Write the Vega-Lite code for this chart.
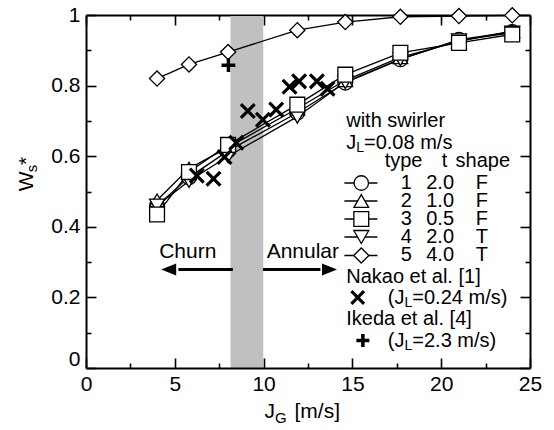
{
  "$schema": "https://vega.github.io/schema/vega-lite/v6.json",
  "width": 444,
  "height": 353,
  "autosize": {"type": "none"},
  "padding": {"left": 86, "top": 15, "right": 24, "bottom": 62},
  "background": "white",
  "config": {
    "view": {"stroke": null},
    "font": "Liberation Sans",
    "text": {"font": "Liberation Sans", "color": "black"}
  },
  "datasets": {
    "band": [{"x": 8.14, "x2": 9.98, "y": 0, "y2": 0.997}],
    "series": [
      {"type": 5, "x": 4, "y": 0.82}, {"type": 5, "x": 5.8, "y": 0.86}, {"type": 5, "x": 8, "y": 0.895}, {"type": 5, "x": 11.9, "y": 0.957},
      {"type": 5, "x": 14.6, "y": 0.98}, {"type": 5, "x": 17.7, "y": 0.995}, {"type": 5, "x": 21, "y": 0.997}, {"type": 5, "x": 24, "y": 0.999},
      {"type": 1, "x": 4, "y": 0.46}, {"type": 1, "x": 5.8, "y": 0.54}, {"type": 1, "x": 8, "y": 0.615}, {"type": 1, "x": 11.9, "y": 0.723},
      {"type": 1, "x": 14.6, "y": 0.808}, {"type": 1, "x": 17.7, "y": 0.874}, {"type": 1, "x": 21, "y": 0.93}, {"type": 1, "x": 24, "y": 0.952},
      {"type": 2, "x": 4, "y": 0.475}, {"type": 2, "x": 5.8, "y": 0.565}, {"type": 2, "x": 8, "y": 0.625}, {"type": 2, "x": 11.9, "y": 0.735},
      {"type": 2, "x": 14.6, "y": 0.815}, {"type": 2, "x": 17.7, "y": 0.88}, {"type": 2, "x": 21, "y": 0.925}, {"type": 2, "x": 24, "y": 0.955},
      {"type": 4, "x": 4, "y": 0.46}, {"type": 4, "x": 5.8, "y": 0.53}, {"type": 4, "x": 8, "y": 0.6}, {"type": 4, "x": 11.9, "y": 0.712},
      {"type": 4, "x": 14.6, "y": 0.81}, {"type": 4, "x": 17.7, "y": 0.875}, {"type": 4, "x": 21, "y": 0.928}, {"type": 4, "x": 24, "y": 0.95},
      {"type": 3, "x": 4, "y": 0.435}, {"type": 3, "x": 5.8, "y": 0.555}, {"type": 3, "x": 8, "y": 0.632}, {"type": 3, "x": 11.9, "y": 0.746},
      {"type": 3, "x": 14.6, "y": 0.831}, {"type": 3, "x": 17.7, "y": 0.893}, {"type": 3, "x": 21, "y": 0.921}, {"type": 3, "x": 24, "y": 0.945}
    ],
    "nakao": [
      {"x": 6.24, "y": 0.545}, {"x": 7.18, "y": 0.536}, {"x": 7.8, "y": 0.598}, {"x": 8.46, "y": 0.638},
      {"x": 9.11, "y": 0.728}, {"x": 9.96, "y": 0.703}, {"x": 10.71, "y": 0.732}, {"x": 11.46, "y": 0.797},
      {"x": 12.0, "y": 0.812}, {"x": 13.0, "y": 0.812}, {"x": 13.6, "y": 0.791}
    ],
    "ikeda": [{"x": 8.02, "y": 0.858}],
    "legendRows": [
      {"type": 1, "x": 14.55, "x2": 16.41, "xs": 15.5, "y": 0.5241},
      {"type": 2, "x": 14.55, "x2": 16.41, "xs": 15.5, "y": 0.4731},
      {"type": 3, "x": 14.55, "x2": 16.41, "xs": 15.5, "y": 0.4221},
      {"type": 4, "x": 14.55, "x2": 16.41, "xs": 15.5, "y": 0.3711},
      {"type": 5, "x": 14.55, "x2": 16.41, "xs": 15.5, "y": 0.3187}
    ],
    "keyRefs": [
      {"src": "nakao", "x": 15.3, "y": 0.1997},
      {"src": "ikeda", "x": 15.59, "y": 0.0779}
    ],
    "arrows": [
      {"dir": "left", "x": 8.27, "x2": 5.2, "tip": 4.657, "y": 0.279},
      {"dir": "right", "x": 9.96, "x2": 13.2, "tip": 13.71, "y": 0.279}
    ],
    "notes": [
      {"role": "legend", "text": "with swirler", "x": 14.651, "y": 0.6997},
      {"role": "legend", "text": "J", "x": 14.651, "y": 0.6388},
      {"role": "legend", "text": "=0.08 m/s", "x": 15.653, "y": 0.6388},
      {"role": "legend", "text": "Nakao et al. [1]", "x": 14.651, "y": 0.2578},
      {"role": "legend", "text": "(J", "x": 16.993, "y": 0.1997},
      {"role": "legend", "text": "=0.24 m/s)", "x": 18.373, "y": 0.1997},
      {"role": "legend", "text": "Ikeda et al. [4]", "x": 14.651, "y": 0.1402},
      {"role": "legend", "text": "(J", "x": 16.993, "y": 0.0779},
      {"role": "legend", "text": "=2.3 m/s)", "x": 18.373, "y": 0.0779},
      {"role": "sub", "text": "L", "x": 15.214, "y": 0.6388},
      {"role": "sub", "text": "L", "x": 17.934, "y": 0.1997},
      {"role": "sub", "text": "L", "x": 17.934, "y": 0.0779},
      {"role": "col", "text": "type", "x": 17.88, "y": 0.585},
      {"role": "col", "text": "t", "x": 20.19, "y": 0.585},
      {"role": "col", "text": "shape", "x": 22.34, "y": 0.585},
      {"role": "col", "text": "1", "x": 18.03, "y": 0.5241},
      {"role": "col", "text": "2.0", "x": 19.94, "y": 0.5241},
      {"role": "col", "text": "F", "x": 22.29, "y": 0.5241},
      {"role": "col", "text": "2", "x": 18.03, "y": 0.4731},
      {"role": "col", "text": "1.0", "x": 19.94, "y": 0.4731},
      {"role": "col", "text": "F", "x": 22.29, "y": 0.4731},
      {"role": "col", "text": "3", "x": 18.03, "y": 0.4221},
      {"role": "col", "text": "0.5", "x": 19.94, "y": 0.4221},
      {"role": "col", "text": "F", "x": 22.29, "y": 0.4221},
      {"role": "col", "text": "4", "x": 18.03, "y": 0.3711},
      {"role": "col", "text": "2.0", "x": 19.94, "y": 0.3711},
      {"role": "col", "text": "T", "x": 22.29, "y": 0.3711},
      {"role": "col", "text": "5", "x": 18.03, "y": 0.3187},
      {"role": "col", "text": "4.0", "x": 19.94, "y": 0.3187},
      {"role": "col", "text": "T", "x": 22.29, "y": 0.3187},
      {"role": "region", "text": "Churn", "x": 5.73, "y": 0.3286},
      {"role": "region", "text": "Annular", "x": 12.21, "y": 0.3286},
      {"role": "title", "text": "J", "x": 10.051, "y": -0.143},
      {"role": "title", "text": "[m/s]", "x": 11.74, "y": -0.143},
      {"role": "titlesub", "text": "G", "x": 10.642, "y": -0.143},
      {"role": "ytitle", "text": "W", "x": -2.995, "y": 0.5008},
      {"role": "ytitle", "text": "*", "x": -2.995, "y": 0.575},
      {"role": "ytitlesub", "text": "s", "x": -2.995, "y": 0.5547}
    ]
  },
  "encoding": {
    "x": {"field": "x", "type": "quantitative", "scale": {"domain": [0, 25], "nice": false, "zero": false}, "axis": null},
    "y": {"field": "y", "type": "quantitative", "scale": {"domain": [0, 1], "nice": false, "zero": false}, "axis": null}
  },
  "layer": [
    {
      "data": {"name": "band"},
      "mark": {"type": "rect", "fill": "#c0c0c0"},
      "encoding": {
        "x": {"field": "x", "type": "quantitative", "scale": {"domain": [0, 25], "nice": false, "zero": false},
          "axis": {"orient": "bottom", "values": [0, 2.5, 5, 7.5, 10, 12.5, 15, 17.5, 20, 22.5, 25], "format": "~g",
            "labelExpr": "datum.value % 5 === 0 ? datum.label : ''",
            "tickSize": {"condition": {"test": "datum.value % 5 === 0", "value": -10}, "value": -5},
            "labelPadding": 15, "labelFlush": false, "labelOverlap": false, "title": null, "grid": false,
            "domainColor": "black", "domainWidth": 2, "tickColor": "black", "tickWidth": 1.6,
            "labelFont": "Liberation Sans", "labelFontSize": 21, "labelColor": "black", "zindex": 1}},
        "x2": {"field": "x2"},
        "y": {"field": "y", "type": "quantitative", "scale": {"domain": [0, 1], "nice": false, "zero": false},
          "axis": {"orient": "left", "values": [0, 0.1, 0.2, 0.3, 0.4, 0.5, 0.6, 0.7, 0.8, 0.9, 1], "format": "~g",
            "labelExpr": "round(datum.value * 10) % 2 === 0 ? datum.label : ''",
            "tickSize": {"condition": {"test": "round(datum.value * 10) % 2 === 0", "value": -10}, "value": -5},
            "labelOffset": {"condition": {"test": "datum.value === 0", "value": -9}, "value": 0},
            "labelPadding": 16, "labelFlush": false, "labelOverlap": false, "title": null, "grid": false,
            "domainColor": "black", "domainWidth": 2, "tickColor": "black", "tickWidth": 1.6,
            "labelFont": "Liberation Sans", "labelFontSize": 21, "labelColor": "black", "zindex": 1}},
        "y2": {"field": "y2"}
      }
    },
    {
      "data": {"name": "series"},
      "mark": {"type": "line", "color": "black", "strokeWidth": 1.3},
      "encoding": {
        "x": {"field": "x", "type": "quantitative", "scale": {"domain": [0, 25], "nice": false, "zero": false},
          "axis": {"orient": "top", "values": [0, 2.5, 5, 7.5, 10, 12.5, 15, 17.5, 20, 22.5, 25], "labels": false,
            "tickSize": {"condition": {"test": "datum.value % 5 === 0", "value": -10}, "value": -5},
            "title": null, "grid": false, "domainColor": "black", "domainWidth": 2, "tickColor": "black", "tickWidth": 1.6, "zindex": 0}},
        "y": {"field": "y", "type": "quantitative", "scale": {"domain": [0, 1], "nice": false, "zero": false},
          "axis": {"orient": "right", "values": [0, 0.1, 0.2, 0.3, 0.4, 0.5, 0.6, 0.7, 0.8, 0.9, 1], "labels": false,
            "tickSize": {"condition": {"test": "round(datum.value * 10) % 2 === 0", "value": -10}, "value": -5},
            "title": null, "grid": false, "domainColor": "black", "domainWidth": 2, "tickColor": "black", "tickWidth": 1.6, "zindex": 1}},
        "detail": {"field": "type", "type": "nominal"}
      }
    },
    {
      "data": {"name": "series"},
      "mark": {"type": "point", "filled": true, "fill": "white", "stroke": "black", "strokeWidth": 1.3, "opacity": 1},
      "encoding": {
        "shape": {"field": "type", "type": "nominal", "scale": {"domain": [1, 2, 3, 4, 5], "range": ["circle", "triangle-up", "square", "triangle-down", "diamond"]}, "legend": null},
        "size": {"field": "type", "type": "ordinal", "scale": {"domain": [1, 2, 3, 4, 5], "range": [210, 230, 180, 230, 280]}, "legend": null}
      }
    },
    {
      "data": {"name": "nakao"},
      "mark": {"type": "point", "shape": "M-1,-1L1,1M-1,1L1,-1", "size": 190, "stroke": "black", "strokeWidth": 3.2, "filled": false, "opacity": 1}
    },
    {
      "data": {"name": "ikeda"},
      "mark": {"type": "point", "shape": "M-1,0L1,0M0,-1L0,1", "size": 190, "stroke": "black", "strokeWidth": 3.5, "filled": false, "opacity": 1}
    },
    {
      "data": {"name": "legendRows"},
      "mark": {"type": "rule", "color": "black", "strokeWidth": 1.3},
      "encoding": {"x2": {"field": "x2"}}
    },
    {
      "data": {"name": "legendRows"},
      "mark": {"type": "point", "filled": true, "fill": "white", "stroke": "black", "strokeWidth": 1.3, "opacity": 1},
      "encoding": {
        "x": {"field": "xs", "type": "quantitative", "scale": {"domain": [0, 25], "nice": false, "zero": false}, "axis": null},
        "shape": {"field": "type", "type": "nominal", "scale": {"domain": [1, 2, 3, 4, 5], "range": ["circle", "triangle-up", "square", "triangle-down", "diamond"]}, "legend": null},
        "size": {"field": "type", "type": "ordinal", "scale": {"domain": [1, 2, 3, 4, 5], "range": [210, 230, 180, 230, 280]}, "legend": null}
      }
    },
    {
      "data": {"name": "keyRefs"},
      "transform": [{"filter": "datum.src === 'nakao'"}],
      "mark": {"type": "point", "shape": "M-1,-1L1,1M-1,1L1,-1", "size": 160, "stroke": "black", "strokeWidth": 3.2, "filled": false, "opacity": 1}
    },
    {
      "data": {"name": "keyRefs"},
      "transform": [{"filter": "datum.src === 'ikeda'"}],
      "mark": {"type": "point", "shape": "M-1,0L1,0M0,-1L0,1", "size": 170, "stroke": "black", "strokeWidth": 3.5, "filled": false, "opacity": 1}
    },
    {
      "data": {"name": "arrows"},
      "mark": {"type": "rule", "color": "black", "strokeWidth": 3.2},
      "encoding": {"x2": {"field": "x2"}}
    },
    {
      "data": {"name": "arrows"},
      "transform": [{"filter": "datum.dir === 'left'"}],
      "mark": {"type": "point", "shape": "M-1,0L1,-0.8L1,0.8Z", "size": 225, "filled": true, "fill": "black", "strokeWidth": 0, "opacity": 1},
      "encoding": {"x": {"field": "tip", "type": "quantitative", "scale": {"domain": [0, 25], "nice": false, "zero": false}, "axis": null}}
    },
    {
      "data": {"name": "arrows"},
      "transform": [{"filter": "datum.dir === 'right'"}],
      "mark": {"type": "point", "shape": "M1,0L-1,-0.8L-1,0.8Z", "size": 225, "filled": true, "fill": "black", "strokeWidth": 0, "opacity": 1},
      "encoding": {"x": {"field": "tip", "type": "quantitative", "scale": {"domain": [0, 25], "nice": false, "zero": false}, "axis": null}}
    },
    {
      "data": {"name": "notes"},
      "transform": [{"filter": "datum.role === 'legend'"}],
      "mark": {"type": "text", "align": "left", "baseline": "middle", "fontSize": 20},
      "encoding": {"text": {"field": "text"}}
    },
    {
      "data": {"name": "notes"},
      "transform": [{"filter": "datum.role === 'sub'"}],
      "mark": {"type": "text", "align": "left", "baseline": "middle", "fontSize": 14, "dy": 5},
      "encoding": {"text": {"field": "text"}}
    },
    {
      "data": {"name": "notes"},
      "transform": [{"filter": "datum.role === 'col'"}],
      "mark": {"type": "text", "align": "center", "baseline": "middle", "fontSize": 20},
      "encoding": {"text": {"field": "text"}}
    },
    {
      "data": {"name": "notes"},
      "transform": [{"filter": "datum.role === 'region'"}],
      "mark": {"type": "text", "align": "center", "baseline": "middle", "fontSize": 21},
      "encoding": {"text": {"field": "text"}}
    },
    {
      "data": {"name": "notes"},
      "transform": [{"filter": "datum.role === 'title'"}],
      "mark": {"type": "text", "align": "left", "baseline": "alphabetic", "fontSize": 21},
      "encoding": {"text": {"field": "text"}}
    },
    {
      "data": {"name": "notes"},
      "transform": [{"filter": "datum.role === 'titlesub'"}],
      "mark": {"type": "text", "align": "left", "baseline": "alphabetic", "fontSize": 15, "dy": 5},
      "encoding": {"text": {"field": "text"}}
    },
    {
      "data": {"name": "notes"},
      "transform": [{"filter": "datum.role === 'ytitle'"}],
      "mark": {"type": "text", "align": "left", "baseline": "alphabetic", "fontSize": 21, "angle": 270},
      "encoding": {"text": {"field": "text"}}
    },
    {
      "data": {"name": "notes"},
      "transform": [{"filter": "datum.role === 'ytitlesub'"}],
      "mark": {"type": "text", "align": "left", "baseline": "alphabetic", "fontSize": 15, "angle": 270, "dy": 4},
      "encoding": {"text": {"field": "text"}}
    }
  ],
  "resolve": {"axis": {"x": "independent", "y": "independent"}}
}
